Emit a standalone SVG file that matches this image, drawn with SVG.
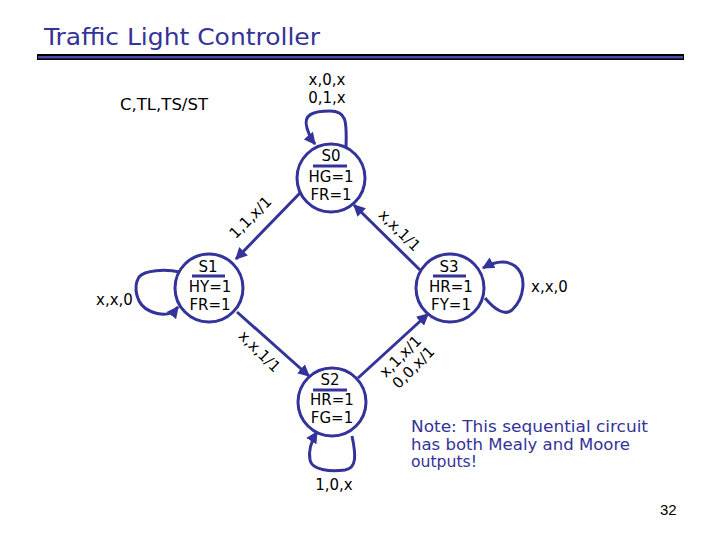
<svg xmlns="http://www.w3.org/2000/svg" width="720" height="540" viewBox="0 0 720 540">
<style>
.st{fill:#fff;stroke:#333399;stroke-width:3}
.bar{stroke:#333399;stroke-width:3}
.e{fill:none;stroke:#333399;stroke-width:3;marker-end:url(#ah)}
.t{font-family:"DejaVu Sans",sans-serif;font-size:15px;fill:#000}
.c{text-anchor:middle}
.b{font-family:"DejaVu Sans",sans-serif;fill:#333399}
</style>
<defs>
<marker id="ah" viewBox="0 0 10 10" refX="9" refY="5" markerWidth="4" markerHeight="4" orient="auto" markerUnits="strokeWidth">
<path d="M0,0 L10,5 L0,10 z" fill="#333399"/>
</marker>
</defs>
<rect width="720" height="540" fill="#fff"/>
<g id="title">
<text class="b" x="44" y="45" font-size="23" textLength="276" lengthAdjust="spacingAndGlyphs">Traffic Light Controller</text>
<rect x="37" y="54" width="647" height="6" fill="#000"/>
<rect x="38" y="56" width="645" height="2.5" fill="#4a4aa8"/>
</g>
<text class="t" x="120" y="110" textLength="88" lengthAdjust="spacingAndGlyphs">C,TL,TS/ST</text>
<g id="connectors">
<line class="e" x1="300" y1="193" x2="236" y2="259"/>
<line class="e" x1="420" y1="270" x2="354" y2="205"/>
<line class="e" x1="237" y1="312" x2="309" y2="376"/>
<line class="e" x1="358" y1="378" x2="428" y2="314"/>
<path class="e" d="M346,147 C347,120 346,111 330,111 C312,111 303,115 307,128 C309,135 311,139 315,144"/>
<path class="e" d="M180,272 C165,269 145,270 139,277 C133,287 136,305 150,311 C162,316 171,316 178,307"/>
<path class="e" d="M485,298 C495,310 505,316 512,310 C525,298 527,275 515,266 C505,259 492,263 483,268"/>
<path class="e" d="M352,436 C356,455 357,468 345,470 C330,472 312,470 310,460 C308,450 312,440 317,432"/>
<text class="t c" x="327" y="85">x,0,x</text>
<text class="t c" x="327" y="103">0,1,x</text>
<text class="t c" transform="translate(254,221) rotate(-45)">1,1,x/1</text>
<text class="t c" transform="translate(396,234) rotate(45)">x,x,1/1</text>
<text class="t c" transform="translate(256,355) rotate(45)">x,x,1/1</text>
<text class="t c" transform="translate(404,360) rotate(-45)">x,1,x/1</text>
<text class="t c" transform="translate(417,371) rotate(-45)">0,0,x/1</text>
<text class="t" x="96" y="305">x,x,0</text>
<text class="t" x="531" y="292">x,x,0</text>
<text class="t c" x="334" y="490">1,0,x</text>
</g>
<g id="S0">
<circle class="st" cx="331" cy="178" r="34"/>
<text class="t c" x="331" y="161">S0</text>
<line class="bar" x1="313" y1="166" x2="347" y2="166"/>
<text class="t c" x="331" y="182">HG=1</text>
<text class="t c" x="331" y="200">FR=1</text>
</g>
<g id="S1">
<circle class="st" cx="209" cy="288" r="34"/>
<text class="t c" x="208" y="272">S1</text>
<line class="bar" x1="192" y1="276" x2="225" y2="276"/>
<text class="t c" x="210" y="292">HY=1</text>
<text class="t c" x="210" y="310">FR=1</text>
</g>
<g id="S3">
<circle class="st" cx="450" cy="288" r="34"/>
<text class="t c" x="449" y="272">S3</text>
<line class="bar" x1="433" y1="276" x2="466" y2="276"/>
<text class="t c" x="451" y="292">HR=1</text>
<text class="t c" x="451" y="310">FY=1</text>
</g>
<g id="S2">
<circle class="st" cx="332" cy="402" r="34"/>
<text class="t c" x="330" y="385">S2</text>
<line class="bar" x1="313" y1="390" x2="347" y2="390"/>
<text class="t c" x="332" y="405">HR=1</text>
<text class="t c" x="332" y="423">FG=1</text>
</g>
<g id="note">
<text class="b" x="411" y="432" font-size="15.5" textLength="237" lengthAdjust="spacingAndGlyphs">Note: This sequential circuit</text>
<text class="b" x="411" y="450" font-size="15.5" textLength="219" lengthAdjust="spacingAndGlyphs">has both Mealy and Moore</text>
<text class="b" x="411" y="467" font-size="15.5" textLength="66" lengthAdjust="spacingAndGlyphs">outputs!</text>
</g>
<text x="660" y="515" font-family="Liberation Sans, sans-serif" font-size="15" fill="#000">32</text>
</svg>
